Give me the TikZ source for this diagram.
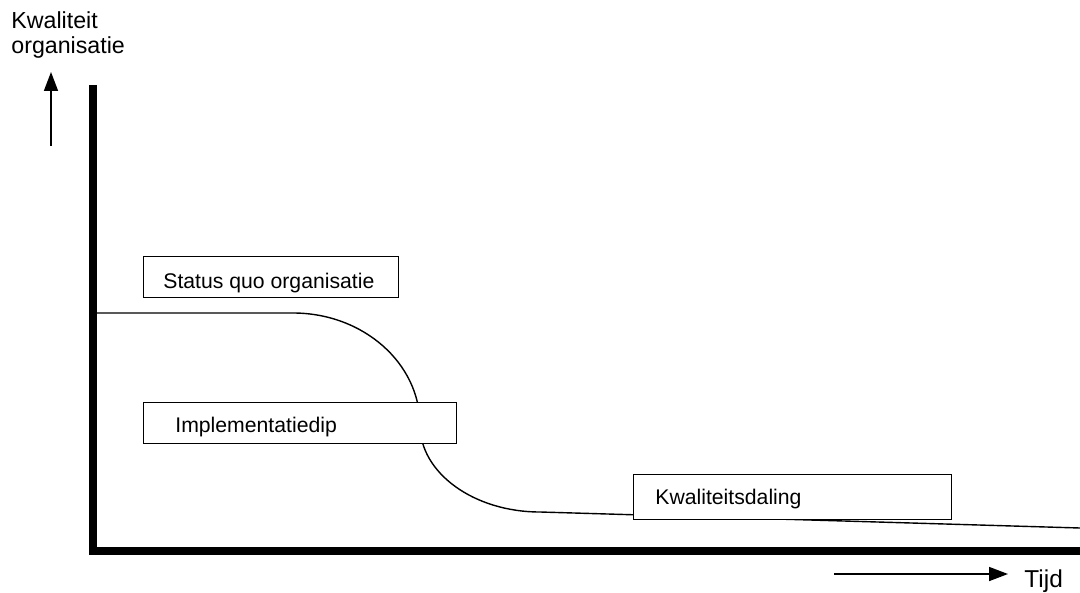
\documentclass[tikz,border=0pt]{standalone}
\usepackage{fontspec}
\setmainfont{Liberation Sans}
\usetikzlibrary{arrows.meta}
\begin{document}
\begin{tikzpicture}[x=0.5pt,y=-0.5pt,
  lbl/.style={inner sep=0pt,font=\fontsize{10.6}{12}\selectfont},
  axlbl/.style={inner sep=0pt,font=\fontsize{11.6}{13}\selectfont},
  box/.style={draw,fill=white,line width=0.65pt,inner sep=0pt,anchor=north west},
  axis/.style={line width=3.6pt},
  dir/.style={line width=0.8pt,-{Triangle[length=9.5pt,width=7pt]}}]
\useasboundingbox (0,0) rectangle (1080,593);
% axes
\coordinate (ytop) at (93,85);
\coordinate (orig) at (93,551);
\coordinate (xend) at (1080,551);
\draw[axis] (ytop) -- (93,554.6);
\draw[axis] (89.4,551) -- (xend);
% axis labels
\node[axlbl,anchor=base west] (kw) at (11,29) {Kwaliteit};
\node[axlbl,anchor=base west] (org) at (11,54) {organisatie};
\coordinate (ua0) at (51,146);
\coordinate (ua1) at (51,72);
\draw[dir] (ua0) -- (ua1);
\coordinate (ra0) at (834,574);
\coordinate (ra1) at (1008,574);
\draw[dir] (ra0) -- (ra1);
\node[axlbl,font=\fontsize{12.2}{14}\selectfont,anchor=base west] (tijd) at (1024,587) {Tijd};
% curve
\coordinate (c0) at (95,313);
\coordinate (c1) at (293,313);
\coordinate (c2) at (420,425);
\coordinate (c3) at (540,512);
\coordinate (c4) at (1080,528);
\draw[line width=0.7pt] (c0) -- (c1)
  .. controls (363,313) and (420,363) .. (c2)
  .. controls (420,473) and (474,512) .. (c3) -- (c4);
% boxes
\node[box,minimum width=127.5pt,minimum height=20.5pt] (sq) at (143,256) {};
\node[lbl,anchor=base west] (sqt) at (163,288) {Status quo organisatie};
\node[box,minimum width=156.5pt,minimum height=20.5pt] (dip) at (143,402) {};
\node[lbl,anchor=base west] (dipt) at (175,432) {Implementatiedip};
\node[box,minimum width=159pt,minimum height=22.5pt] (kd) at (633,474) {};
\node[lbl,anchor=base west] (kdt) at (655,504) {Kwaliteitsdaling};
\end{tikzpicture}
\end{document}
